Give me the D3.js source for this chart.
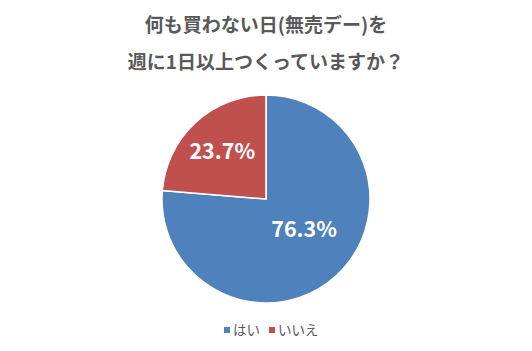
<!DOCTYPE html>
<html>
<head>
<meta charset="utf-8">
<script src="https://cdn.jsdelivr.net/npm/d3@7"></script>
<style>
  body { margin: 0; background: #fff; }
  text { font-family: "Noto Sans CJK JP", "Noto Sans", sans-serif; }
</style>
</head>
<body>
<div id="pieChart"></div>
<script>
var labels = ["はい", "いいえ"]
var values = [76.3, 23.7]
var colors = ["#4F81BD", "#C0504D"]
var titleLines = ["何も買わない日(無売デー)を", "週に1日以上つくっていますか？"]

var width = 532
var height = 351
var cx = 266, cy = 199, radius = 104

var svg = d3.select("#pieChart")
  .append("svg")
  .attr("width", width)
  .attr("height", height)

svg.selectAll("text.title")
  .data(titleLines)
  .enter().append("text")
  .attr("class", "title")
  .attr("x", width / 2)
  .attr("y", function(d, i) { return 32 + i * 37 })
  .attr("text-anchor", "middle")
  .style("font-size", "19px")
  .style("font-weight", "bold")
  .style("fill", "#595959")
  .text(function(d) { return d })

var pie = d3.pie().sort(null).value(function(d) { return d })
var arc = d3.arc().innerRadius(0).outerRadius(radius)
var color = d3.scaleOrdinal().domain(labels).range(colors)

var g = svg.append("g")
  .attr("transform", "translate(" + cx + "," + cy + ")")

var arcs = pie(values)

g.selectAll("path")
  .data(arcs)
  .enter().append("path")
  .attr("d", arc)
  .style("fill", function(d, i) { return color(labels[i]) })
  .style("stroke", "#fff")
  .style("stroke-width", 1.5)

// the big slice's label sits closer to the centre
var labelR = [0.47, 0.62]

g.selectAll("text.pct")
  .data(arcs)
  .enter().append("text")
  .attr("class", "pct")
  .attr("transform", function(d, i) {
    var r = radius * labelR[i]
    var c = d3.arc().innerRadius(r).outerRadius(r).centroid(d)
    return "translate(" + (c[0] + (i == 0 ? 5 : 0)) + "," + (c[1] - (i == 0 ? 5 : 0)) + ")"
  })
  .attr("text-anchor", "middle")
  .attr("dy", "0.35em")
  .style("font-size", "21.5px")
  .style("font-weight", "bold")
  .style("fill", "#fff")
  .text(function(d) { return d.value.toFixed(1) + "%" })

// legend
var legend = svg.append("g").attr("transform", "translate(224,330)")
var offsets = [0, 45]
var item = legend.selectAll("g")
  .data(labels)
  .enter().append("g")
  .attr("transform", function(d, i) { return "translate(" + offsets[i] + ",0)" })
item.append("rect")
  .attr("x", 0).attr("y", -3)
  .attr("width", 6).attr("height", 6)
  .style("fill", function(d) { return color(d) })
item.append("text")
  .attr("x", 9)
  .attr("y", 0)
  .attr("dy", "0.35em")
  .style("font-size", "13.5px")
  .style("fill", "#595959")
  .text(function(d) { return d })
</script>
</body>
</html>
